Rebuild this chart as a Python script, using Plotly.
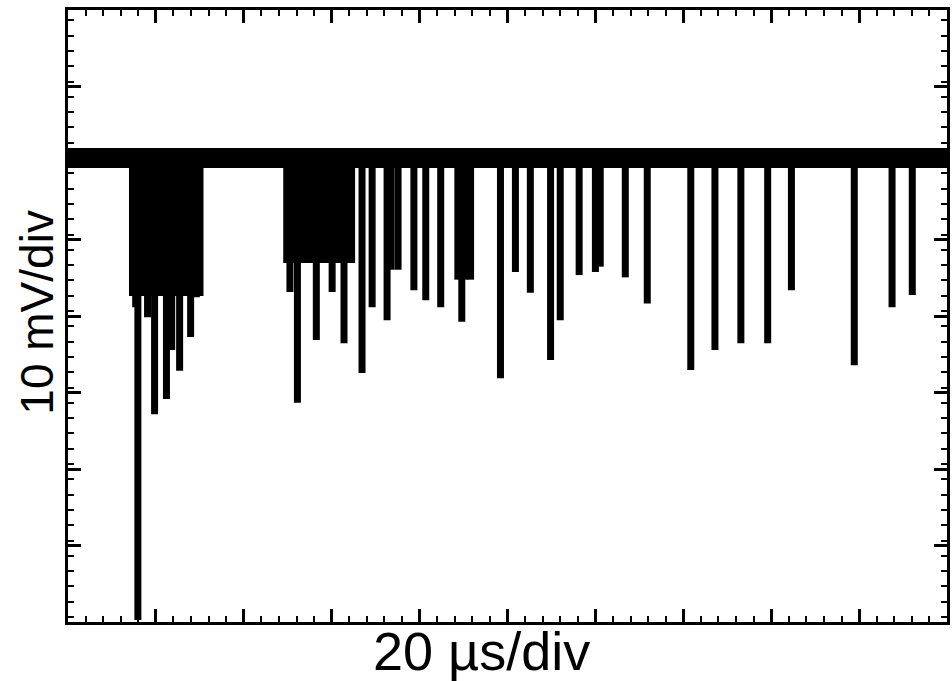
import plotly.graph_objects as go

# ---- data (time in microseconds, signal in mV, baseline = 0) ----
spike_time_us = [15.9, 15.4, 18.1, 19.7, 22.4, 23.6, 25.4, 27.9, 29.2,
                 50.5, 52.2, 56.5, 60.1, 62.8, 66.9, 69.2, 72.6, 73.5, 75.1,
                 78.7, 81.4, 84.8, 88.7, 89.6, 90.3, 91.6, 98.4, 101.8,
                 105.2, 109.8, 112.0, 116.3, 120.0, 121.1, 126.8, 131.8,
                 141.7, 147.2, 153.1, 159.2, 164.6, 178.9, 187.5, 192.1]
spike_depth_mV = [-60.4, -19.5, -20.8, -33.5, -31.5, -25.1, -27.8, -23.4, -18.2,
                  -17.5, -32.0, -23.8, -17.5, -24.2, -28.1, -19.5, -21.2, -14.6, -14.6,
                  -17.3, -18.6, -19.5, -15.9, -21.4, -15.9, -15.9, -28.8, -14.9,
                  -17.6, -26.4, -21.2, -15.3, -14.9, -14.2, -15.6, -19.0,
                  -27.7, -25.1, -24.2, -24.2, -17.3, -27.1, -19.5, -17.9]

burst_start_us = [14.1, 49.2]
burst_end_us = [30.6, 65.1]
burst_floor_mV = [-17.9, -13.6]

time_span_us = [0, 200]
baseline_mV = [0, 0]

# ---- build figure ----
fig = go.Figure()

# dense bursts (solid regions)
for s, e, f in zip(burst_start_us, burst_end_us, burst_floor_mV):
    fig.add_trace(go.Scatter(x=[s, e, e, s, s], y=[0, 0, f, f, 0],
                             mode="lines", fill="toself", fillcolor="black",
                             line=dict(color="black", width=2),
                             hoverinfo="skip", showlegend=False))

# individual spikes
sx, sy = [], []
for t, d in zip(spike_time_us, spike_depth_mV):
    sx += [t, t, None]
    sy += [0, d, None]
fig.add_trace(go.Scatter(x=sx, y=sy, mode="lines",
                         line=dict(color="black", width=7),
                         hoverinfo="skip", showlegend=False))

# thick noisy baseline
fig.add_trace(go.Scatter(x=time_span_us, y=baseline_mV, mode="lines",
                         line=dict(color="black", width=20),
                         hoverinfo="skip", showlegend=False))

axis_common = dict(showgrid=False, zeroline=False, showticklabels=False,
                   showline=True, linecolor="black", linewidth=3,
                   mirror="allticks", ticks="inside", tickcolor="black",
                   tickwidth=3, ticklen=13)

fig.update_xaxes(range=[0, 200], tick0=0, dtick=20,
                 minor=dict(ticks="inside", ticklen=6, tickwidth=2,
                            tickcolor="black", dtick=4),
                 **axis_common)
fig.update_yaxes(range=[-60.65, 19.35], tick0=-0.65, dtick=10,
                 minor=dict(ticks="inside", ticklen=6, tickwidth=2,
                            tickcolor="black", dtick=2),
                 **axis_common)

fig.add_annotation(text="20 µs/div", xref="paper", yref="paper",
                   x=0.47, y=-0.047, xanchor="center", yanchor="middle",
                   showarrow=False,
                   font=dict(family="Liberation Sans, Arial", size=54, color="black"))
fig.add_annotation(text="10 mV/div", xref="paper", yref="paper",
                   x=-0.0357, y=0.5065, xanchor="center", yanchor="middle",
                   textangle=-90, showarrow=False,
                   font=dict(family="Liberation Sans, Arial", size=46, color="black"))

fig.update_layout(width=952, height=681,
                  margin=dict(l=68, r=2, t=10, b=59),
                  paper_bgcolor="white", plot_bgcolor="white")

fig.write_html("out.html",
               config={"displayModeBar": False},
               post_script="document.body.style.margin='0';")
